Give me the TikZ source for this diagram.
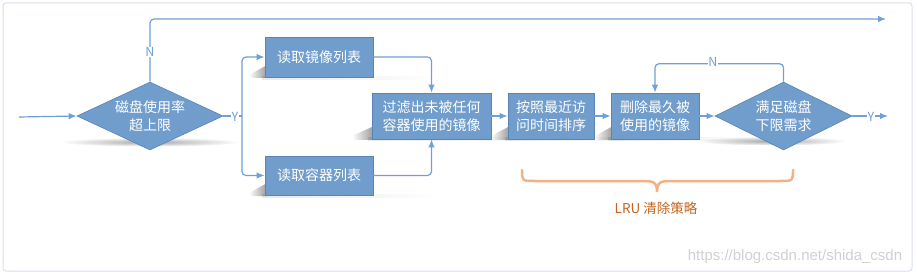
\documentclass[tikz,border=0pt]{standalone}
\usepackage{fontspec}
\setmainfont{Noto Sans CJK SC}
\newfontfamily\wmfont{Liberation Sans}
\usetikzlibrary{shapes.geometric,arrows.meta,fadings}
\definecolor{boxfill}{RGB}{112,157,203}
\definecolor{boxedge}{RGB}{88,132,182}
\definecolor{linecol}{RGB}{112,160,215}
\definecolor{framecol}{RGB}{218,222,245}
\definecolor{bracecol}{RGB}{244,177,131}
\definecolor{lrucol}{RGB}{197,100,30}
\tikzfading[name=shfade, left color=transparent!30, right color=transparent!100]
\tikzfading[name=cornerfade, left color=transparent!100, right color=transparent!20]
\tikzfading[name=radfade, inner color=transparent!0, outer color=transparent!100]
\tikzset{
  stepbox/.style={draw=boxedge, line width=0.8pt, fill=boxfill, text=white, align=center,
    inner sep=0pt, font=\fontsize{14}{17.5}\selectfont},
  decision/.style={diamond, draw=boxedge, line width=0.6pt, fill=boxfill, inner sep=0pt,
    minimum width=#1, minimum height=68pt},
  dtext/.style={text=white, align=center, font=\fontsize{14}{17.5}\selectfont, inner sep=0pt},
  conn/.style={draw=linecol, line width=1.2pt, rounded corners=4pt},
  arr/.style={conn, -{Latex[length=8pt,width=6.5pt]}},
  yn/.style={text=linecol, fill=white, inner sep=0.5pt, font=\fontsize{12.5}{14}\selectfont},
  cornershadow/.style={fill=black, opacity=0.5, path fading=cornerfade},
  stripshadow/.style={fill=black, opacity=0.12, path fading=shfade},
  dshadow/.style={fill=black, opacity=0.35, path fading=radfade}
}
\begin{document}
\begin{tikzpicture}[x=1pt,y=-1pt]
\useasboundingbox (0,0) rectangle (917,275);
\fill[white] (0,0) rectangle (917,275);
\draw[framecol, line width=1pt, rounded corners=3pt] (3,3) rectangle (912,271);

% shadows (corner wedge + faint strip under each box)
\fill[cornershadow] (249,75) -- (267,65) -- (267,78) -- (252,78) -- cycle;
\fill[stripshadow] (262,76) rectangle (440,80);
\fill[cornershadow] (249,193) -- (267,183) -- (267,196) -- (252,196) -- cycle;
\fill[stripshadow] (262,194) rectangle (440,198);
\fill[cornershadow] (352,136) -- (374,126) -- (374,140) -- (355,140) -- cycle;
\fill[stripshadow] (368,137) rectangle (560,141);
\fill[cornershadow] (491,136) -- (510,126) -- (510,140) -- (494,140) -- cycle;
\fill[stripshadow] (505,137) rectangle (660,141);
\fill[cornershadow] (595,136) -- (613,126) -- (613,140) -- (598,140) -- cycle;
\fill[stripshadow] (608,137) rectangle (760,141);
\fill[dshadow] (150,142) ellipse [x radius=90, y radius=4.5];
\fill[dshadow] (772,141) ellipse [x radius=75, y radius=4.5];

% nodes
\node[stepbox, minimum width=108pt, minimum height=40pt] (b1) at (319,57) {读取镜像列表};
\node[stepbox, minimum width=108pt, minimum height=39pt] (b2) at (319,175.5) {读取容器列表};
\node[stepbox, minimum width=119pt, minimum height=46pt] (flt) at (431.5,116) {过滤出未被任何\\容器使用的镜像};
\node[stepbox, minimum width=86pt, minimum height=46pt] (srt) at (551,116) {按照最近访\\问时间排序};
\node[stepbox, minimum width=88pt, minimum height=46pt] (del) at (655,116) {删除最久被\\使用的镜像};
\node[decision=146pt] (d1) at (150,116) {};
\node[dtext] (d1t) at (150,116) {磁盘使用率\\超上限};
\node[decision=137pt] (d2) at (783.5,116) {};
\node[dtext] (d2t) at (783.5,116) {满足磁盘\\下限需求};

% coordinates
\coordinate (start) at (19,117);
\coordinate (nend) at (886,19);
\coordinate (ysplit) at (242,116);
\coordinate (yend) at (888,116);

% connectors
\draw[arr] (start) -- (d1.west);
\draw[arr] (d1.north) |- (nend);
\draw[conn] (d1.east) -- (ysplit);
\draw[arr] (ysplit) |- (b1.west);
\draw[arr] (ysplit) |- (b2.west);
\draw[arr] (b1.east) -| (flt.north);
\draw[arr] (b2.east) -| (flt.south);
\draw[arr] (flt) -- (srt);
\draw[arr] (srt) -- (del);
\draw[arr] (del) -- (d2.west);
\draw[arr] (d2.north) -- ++(0,-18) -| (del.north);
\draw[arr] (d2.east) -- (yend);

% labels
\node[yn] (lN1) at (150,52) {N};
\node[yn] (lY1) at (235,117) {Y};
\node[yn] (lN2) at (713,62) {N};
\node[yn] (lY2) at (871,117) {Y};

% brace
\draw[bracecol, line width=2.5pt, line cap=round]
  (522,170) .. controls (522,181) .. (535,181) -- (645,181)
  .. controls (656,181) and (657,185) .. (657,192)
  .. controls (657,185) and (658,181) .. (669,181) -- (780,181)
  .. controls (793,181) .. (793,170);
\node[text=lrucol, font=\fontsize{13.5}{16}\selectfont] (lru) at (656,208) {LRU 清除策略};

% watermark
\node[text=black!18, font=\wmfont\fontsize{15}{17}\selectfont] (wm) at (795,257) {https://blog.csdn.net/shida\_csdn};
\end{tikzpicture}
\end{document}
